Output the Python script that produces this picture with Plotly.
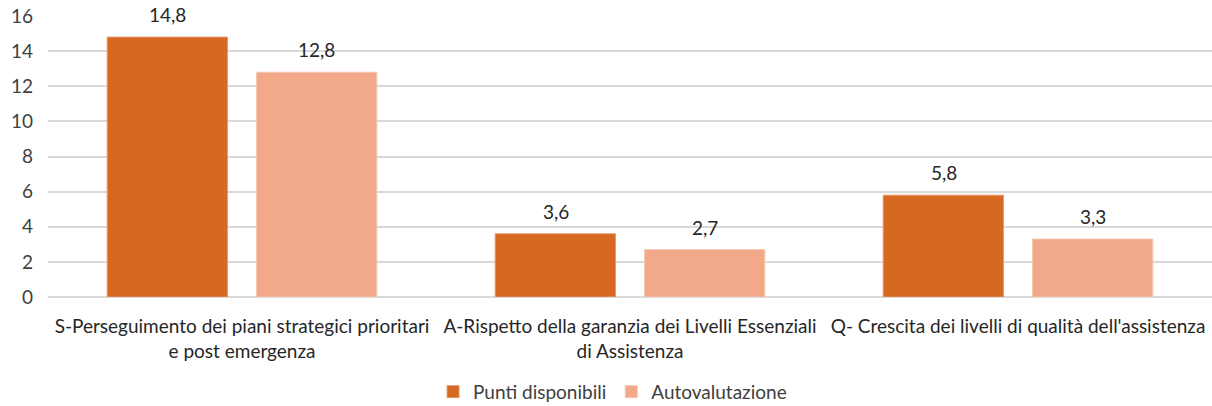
import plotly.graph_objects as go

categories = [
    "S-Perseguimento dei piani strategici prioritari<br>e post emergenza",
    "A-Rispetto della garanzia dei Livelli Essenziali<br>di Assistenza",
    "Q- Crescita dei livelli di qualità dell'assistenza",
]
punti_disponibili = [14.8, 3.6, 5.8]
autovalutazione = [12.8, 2.7, 3.3]
y_ticks = [0, 2, 4, 6, 8, 10, 12, 14, 16]

font_family = "Lato, Carlito, 'Open Sans', sans-serif"
FS = 19

fig = go.Figure()
fig.add_trace(go.Bar(
    name="Punti disponibili", x=categories, y=punti_disponibili,
    marker=dict(color="#D6691F", line=dict(color="#E39A72", width=1)),
))
fig.add_trace(go.Bar(
    name="Autovalutazione", x=categories, y=autovalutazione,
    marker=dict(color="#F2A98A", line=dict(color="#F7C6AF", width=1)),
))

# data labels placed above each bar (bar slot half-width in px used as offset)
for series, shift in ((punti_disponibili, -74.5), (autovalutazione, 74.5)):
    for cat, v in zip(categories, series):
        fig.add_annotation(x=cat, y=v, text=f"{v:.1f}".replace(".", ","),
                           showarrow=False, xshift=shift, yshift=9, yanchor="bottom",
                           font=dict(size=FS, color="#262626"))

fig.update_layout(
    width=1212, height=406,
    margin=dict(l=48, r=0, t=16, b=109),
    paper_bgcolor="white", plot_bgcolor="white",
    font=dict(family=font_family, size=FS, color="#404040"),
    barmode="group", bargap=0.23, bargroupgap=0.195,
    showlegend=True,
    legend=dict(orientation="h", x=0.485, xanchor="center",
                yref="container", y=0.035, yanchor="middle",
                font=dict(size=FS, color="#404040"), traceorder="normal",
                itemwidth=30),
)
fig.update_yaxes(range=[0, 16], tickvals=y_ticks, showgrid=True, gridcolor="#D9D9D9",
                 gridwidth=2, zeroline=True, zerolinecolor="#D9D9D9", zerolinewidth=2,
                 showline=False, tickfont=dict(size=FS, color="#404040"), ticks="",
                 ticklabelstandoff=14, automargin=False)
fig.update_xaxes(showline=False, ticks="",
                 tickfont=dict(size=FS, color="#262626"), automargin=False,
                 ticklabelstandoff=16)

fig.write_html("out.html", post_script="document.body.style.margin='0';",
               config={"displayModeBar": False})
